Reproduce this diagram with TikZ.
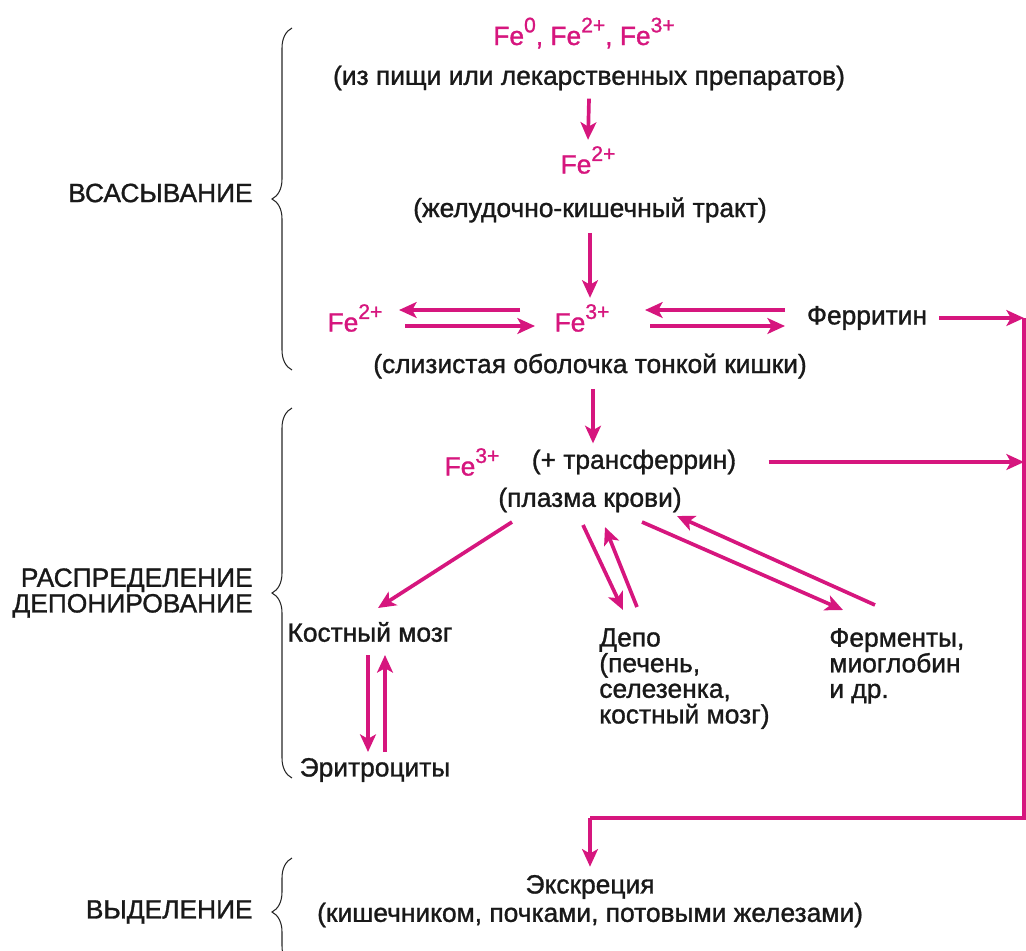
\documentclass[tikz,border=0pt]{standalone}
\usepackage{fontspec}
\setmainfont[FakeBold=1.2]{Liberation Sans}
\usepackage{tikz}
\usetikzlibrary{arrows.meta, positioning, calc, decorations.pathreplacing}
\definecolor{feink}{RGB}{214,22,126}
\newcommand{\ion}[1]{\raisebox{0.48em}{\fontsize{12}{12}\selectfont #1}}

\begin{document}
\begin{tikzpicture}[
    x=0.02cm, y=-0.02cm,
    txt/.style={inner sep=0pt, font=\fontsize{15}{14.6}\selectfont, text=black!90},
    fe/.style={txt, text=feink},
    stage/.style={txt, anchor=east, align=right},
    arr/.style={draw=feink, line width=2.1pt, -{Stealth[length=10pt, width=9pt, inset=2.5pt]}},
    rail/.style={draw=feink, line width=2.1pt},
    bracket/.style={draw=black!85, line width=0.6pt, decorate, decoration={brace, amplitude=0.4cm}}
]
    \useasboundingbox (0,0) rectangle (1026,950);

    % Absorption
    \node[fe] (src) at (584,33) {Fe\ion{0}, Fe\ion{2+}, Fe\ion{3+}};
    \node[txt] (food) at (589,78) {(из пищи или лекарственных препаратов)};
    \node[fe] (gut) at (588,160) {Fe\ion{2+}};
    \node[txt] (gutlbl) at (590,210) {(желудочно-кишечный тракт)};
    \node[fe] (fe2) at (355,318) {Fe\ion{2+}};
    \node[fe] (fe3) at (582,318) {Fe\ion{3+}};
    \node[txt] (ferr) at (867,318) {Ферритин};
    \node[txt] (mucosa) at (590,366) {(слизистая оболочка тонкой кишки)};

    % Distribution
    \node[fe] (tf) at (472,462) {Fe\ion{3+}};
    \node[txt] (tflbl) at (634,462) {(+ трансферрин)};
    \node[txt] (plasma) at (590,500) {(плазма крови)};
    \node[txt] (marrow) at (370,632) {Костный мозг};
    \node[txt] (ery) at (375,770) {Эритроциты};
    \node[txt, anchor=north west, align=left] (depot) at (599,628) {Депо\\(печень,\\селезенка,\\костный мозг)};
    \node[txt, anchor=north west, align=left] (enz) at (829,628) {Ферменты,\\миоглобин\\и др.};

    % Excretion
    \node[txt] (excr) at (590,887) {Экскреция};
    \node[txt] (excrlbl) at (590,915) {(кишечником, почками, потовыми железами)};

    % Stage labels and braces
    \node[stage] (absorb) at (253,193) {ВСАСЫВАНИЕ};
    \node[stage] (distrib) at (253,593) {РАСПРЕДЕЛЕНИЕ\\ДЕПОНИРОВАНИЕ};
    \node[stage] (elim) at (253,912) {ВЫДЕЛЕНИЕ};
    \draw[bracket] (292,370) -- (292,28);
    \draw[bracket] (292,778) -- (292,408);
    \draw[bracket] (292,966) -- (292,858);

    % Edges
    \draw[arr] ($(food.south)+(0,8)$) -- ($(gut.north)+(0,-6)$);
    \draw[arr] ($(gutlbl.south)+(0,10)$) -- ($(gutlbl.south |- fe3.north)+(0,-6)$);
    \draw[arr] ($(fe3)+(-62,-8)$) -- ($(fe2)+(44,-8)$);
    \draw[arr] ($(fe2)+(50,8)$) -- ($(fe3)+(-47,8)$);
    \draw[arr] ($(ferr)+(-82,-8)$) -- ($(fe3)+(63,-8)$);
    \draw[arr] ($(fe3)+(68,8)$) -- ($(ferr)+(-82,8)$);
    \draw[arr] ($(mucosa.south)+(3,10)$) -- ($(mucosa.south |- tflbl.north)+(3,-6)$);
    \draw[arr] ($(plasma)+(-78,22)$) -- ($(marrow)+(8,-24)$);
    \draw[arr] ($(plasma)+(-7,25)$) -- ($(depot.north west)+(24,-18)$);
    \draw[arr] ($(depot.north west)+(38,-21)$) -- ($(plasma)+(15,27)$);
    \draw[arr] ($(plasma)+(52,22)$) -- ($(enz.north west)+(14,-18)$);
    \draw[arr] ($(enz.north west)+(46,-23)$) -- ($(plasma)+(87,16)$);
    \draw[arr] ($(marrow)+(-2,23)$) -- ($(ery)+(-7,-18)$);
    \draw[arr] ($(ery)+(10,-18)$) -- ($(marrow)+(15,23)$);

    % Right-hand rail down to excretion
    \coordinate (railtop) at (1024,318);
    \coordinate (railbot) at (1024,818);
    \draw[arr] ($(ferr.east)+(12,0)$) -- (railtop);
    \draw[arr] ($(tflbl.east)+(32,0)$) -- (tflbl.east -| railtop);
    \draw[rail] (railtop) -- (railbot) -- (railbot -| excr);
    \draw[arr] (railbot -| excr) -- ($(excr.north)+(0,-8)$);
\end{tikzpicture}
\end{document}
